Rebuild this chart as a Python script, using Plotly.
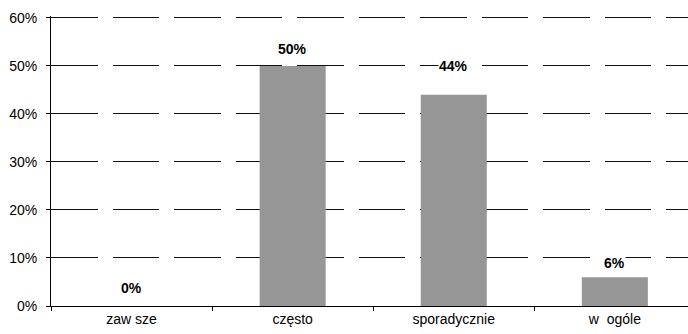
import plotly.graph_objects as go

# Survey answer categories and their shares (in %)
categories = ["zaw sze", "często", "sporadycznie", "w  ogóle"]
shares = [0, 50, 44, 6]
y_ticks = [0, 10, 20, 30, 40, 50, 60]
y_tick_labels = [f"{t}%" for t in y_ticks]

# vertical offset (px) of each value label above its bar
label_shift = [18, 17, 29, 14]

FONT = "Liberation Sans, Arial, sans-serif"

fig = go.Figure()
fig.add_trace(go.Bar(
    x=categories,
    y=shares,
    width=0.41,
    marker=dict(color="#969696", line=dict(width=0)),
    hoverinfo="skip",
))

for cat, val, dy in zip(categories, shares, label_shift):
    fig.add_annotation(
        x=cat, y=val, text=f"<b>{val}%</b>",
        showarrow=False, yanchor="middle", yshift=dy,
        bgcolor="white", borderpad=0,
        font=dict(family=FONT, size=14, color="black"),
    )

fig.update_layout(
    width=688, height=334,
    margin=dict(l=51, r=0, t=16, b=28),
    paper_bgcolor="white", plot_bgcolor="white",
    showlegend=False,
    font=dict(family=FONT, size=14, color="black"),
    xaxis=dict(
        type="category",
        range=[-0.5, 3.454],
        showline=True, linecolor="black", linewidth=1,
        ticks="outside", ticklen=4, tickcolor="black", tickwidth=1,
        tickson="boundaries",
        showgrid=False, zeroline=False,
        tickfont=dict(family=FONT, size=14, color="black"),
    ),
    yaxis=dict(
        range=[0, 60.4],
        tickvals=y_ticks, ticktext=y_tick_labels,
        showline=True, linecolor="black", linewidth=1,
        ticks="outside", ticklen=4, tickcolor="black", tickwidth=1,
        showgrid=True, gridcolor="#101010", gridwidth=1,
        griddash="46.5px,15px",
        zeroline=False,
        ticklabelstandoff=6,
        tickfont=dict(family=FONT, size=14, color="black"),
    ),
)

fig.write_html("out.html")
